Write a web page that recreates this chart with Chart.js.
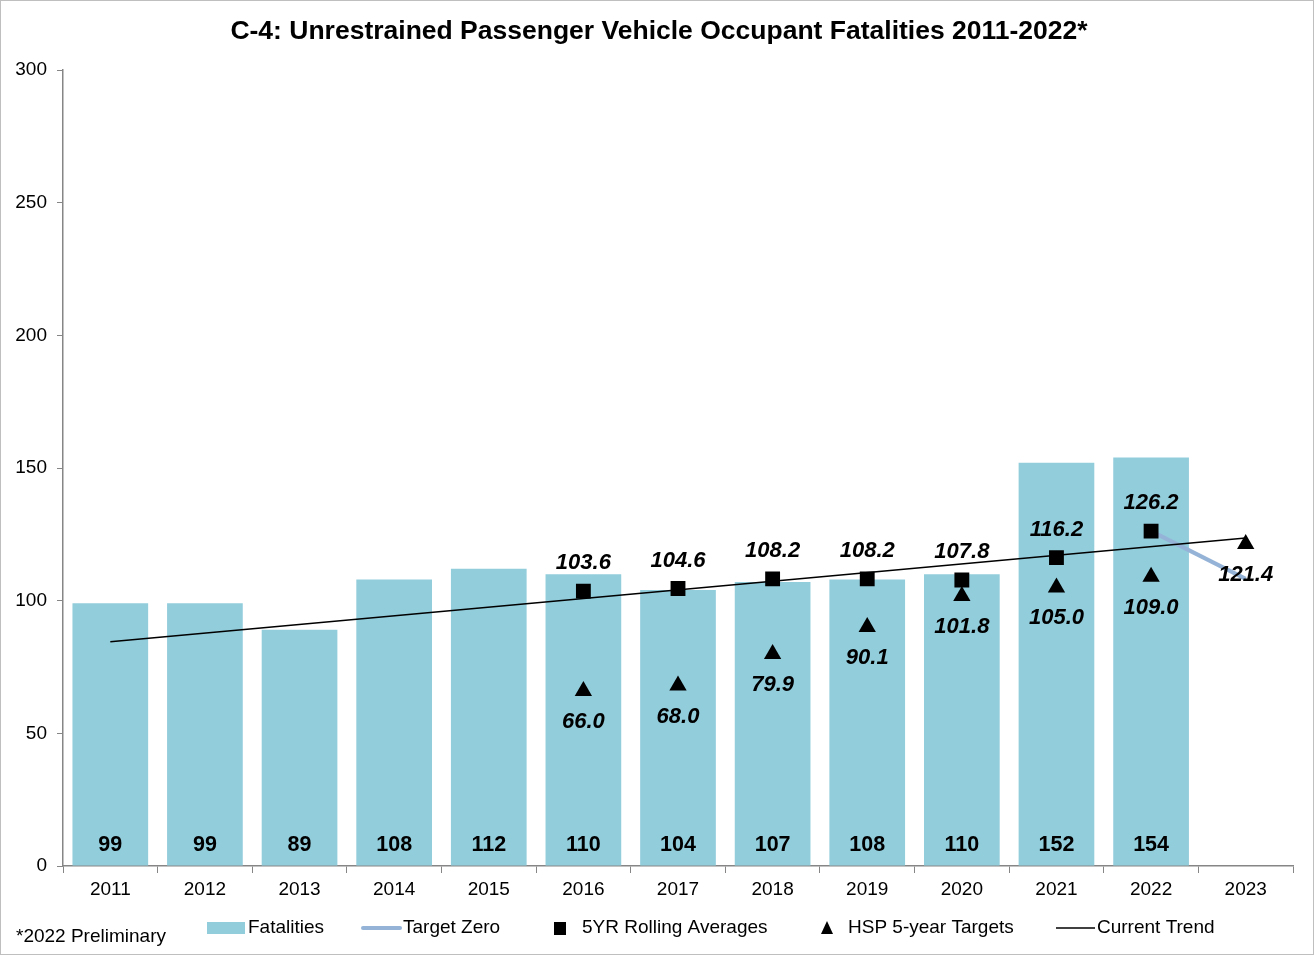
<!DOCTYPE html>
<html><head><meta charset="utf-8">
<script src="https://cdn.jsdelivr.net/npm/chart.js@4"></script>
<style>
html,body{margin:0;padding:0;background:#fff;}
#wrap{position:absolute;left:0;top:0;width:1312px;height:953px;border:1px solid #bfbfbf;}
canvas{display:block;}
</style></head>
<body><div id="wrap"><canvas id="c" width="1312" height="953"></canvas></div>
<script>
const categories = ['2011','2012','2013','2014','2015','2016','2017','2018','2019','2020','2021','2022','2023'];
const fatalities = [99,99,89,108,112,110,104,107,108,110,152,154,null];
const targetZero = [null,null,null,null,null,null,null,null,null,null,null,126.2,108.2];
const rollingAvg = [null,null,null,null,null,103.6,104.6,108.2,108.2,107.8,116.2,126.2,null];
const hspTargets = [null,null,null,null,null,66.0,68.0,79.9,90.1,101.8,105.0,109.0,121.4];
const currentTrend = [84.5,null,null,null,null,null,null,null,null,null,null,null,123.6];
const yTicks = [0,50,100,150,200,250,300];

const FONT = '"Liberation Sans", Arial, sans-serif';

const labelPlugin = {
  id:'labels',
  afterDatasetsDraw(chart){
    const ctx = chart.ctx;
    ctx.save();
    ctx.fillStyle = '#000';
    ctx.textAlign = 'center';
    ctx.textBaseline = 'middle';
    const barMeta = chart.getDatasetMeta(0);
    const yScale = chart.scales.y;
    ctx.font = 'bold 21.5px ' + FONT;
    barMeta.data.forEach((el,i)=>{
      if (fatalities[i]==null) return;
      ctx.fillText(String(fatalities[i]), el.x, yScale.getPixelForValue(0) - 21);
    });
    ctx.font = 'italic bold 22px ' + FONT;
    const rMeta = chart.getDatasetMeta(2);
    rMeta.data.forEach((el,i)=>{
      if (rollingAvg[i]==null) return;
      ctx.fillText(rollingAvg[i].toFixed(1), el.x, el.y - 28);
    });
    const hMeta = chart.getDatasetMeta(3);
    hMeta.data.forEach((el,i)=>{
      if (hspTargets[i]==null) return;
      ctx.fillText(hspTargets[i].toFixed(1), el.x, el.y + 31);
    });
    ctx.restore();
  },
  afterDraw(chart){
    const ctx = chart.ctx;
    ctx.save();
    ctx.fillStyle = '#000';
    ctx.textAlign = 'center';
    ctx.textBaseline = 'middle';
    ctx.font = 'bold 26.5px ' + FONT;
    ctx.fillText('C-4: Unrestrained Passenger Vehicle Occupant Fatalities 2011-2022*', 658, 31);
    ctx.font = '19px ' + FONT;
    ctx.textAlign = 'left';
    const ly = 927;
    ctx.fillText('*2022 Preliminary', 15, 936);
    ctx.fillStyle = '#92CDDC';
    ctx.fillRect(206, 921, 38, 12);
    ctx.fillStyle = '#000';
    ctx.fillText('Fatalities', 247, ly);
    ctx.strokeStyle = '#95B3D7';
    ctx.lineWidth = 4; ctx.lineCap='round';
    ctx.beginPath(); ctx.moveTo(362, ly); ctx.lineTo(399, ly); ctx.stroke();
    ctx.fillText('Target Zero', 402, ly);
    ctx.fillRect(553, 921, 12, 13);
    ctx.fillText('5YR Rolling Averages', 581, ly);
    ctx.beginPath(); ctx.moveTo(826, 920); ctx.lineTo(832, 933); ctx.lineTo(820, 933); ctx.closePath(); ctx.fill();
    ctx.fillText('HSP 5-year Targets', 847, ly);
    ctx.strokeStyle = '#000'; ctx.lineWidth = 1.5; ctx.lineCap='butt';
    ctx.beginPath(); ctx.moveTo(1055, ly); ctx.lineTo(1094, ly); ctx.stroke();
    ctx.fillText('Current Trend', 1096, ly);
    ctx.restore();
  }
};

new Chart(document.getElementById('c'), {
  data: {
    labels: categories,
    datasets: [
      {type:'bar', label:'Fatalities', data:fatalities, backgroundColor:'#92CDDC', borderWidth:0,
       barPercentage:0.8, categoryPercentage:1.0, order:5},
      {type:'line', label:'Target Zero', data:targetZero, borderColor:'#95B3D7', borderWidth:4,
       pointRadius:0, fill:false, spanGaps:false, order:3},
      {type:'line', label:'5YR Rolling Averages', data:rollingAvg, showLine:false,
       pointStyle:'rect', pointRadius:10.5, pointBackgroundColor:'#000', pointBorderWidth:0, order:1},
      {type:'line', label:'HSP 5-year Targets', data:hspTargets, showLine:false,
       pointStyle:'triangle', pointRadius:10, pointBackgroundColor:'#000', pointBorderWidth:0, order:1},
      {type:'line', label:'Current Trend', data:currentTrend, borderColor:'#000', borderWidth:1.5,
       pointRadius:0, spanGaps:true, fill:false, order:2}
    ]
  },
  options: {
    responsive:false,
    animation:false,
    layout:{padding:{top:69, right:20, left:0, bottom:0}},
    plugins:{legend:{display:false}, title:{display:false}, tooltip:{enabled:false}},
    scales:{
      x:{
        offset:true,
        grid:{display:true, drawOnChartArea:false, drawTicks:true, tickLength:7, color:'#868686', offset:true},
        border:{display:true, color:'#868686', width:1.5},
        ticks:{color:'#000', font:{family:FONT, size:19}, padding:5},
        afterFit(s){ s.height = 88; }
      },
      y:{
        min:0, max:300,
        afterBuildTicks(s){ s.ticks = yTicks.map(v=>({value:v})); },
        grid:{display:true, drawOnChartArea:false, drawTicks:true, tickLength:6, color:'#868686'},
        border:{display:true, color:'#868686', width:1.5},
        ticks:{color:'#000', font:{family:FONT, size:19}, padding:10},
        afterFit(s){ s.width = 62; }
      }
    }
  },
  plugins:[labelPlugin]
});
</script></body></html>
